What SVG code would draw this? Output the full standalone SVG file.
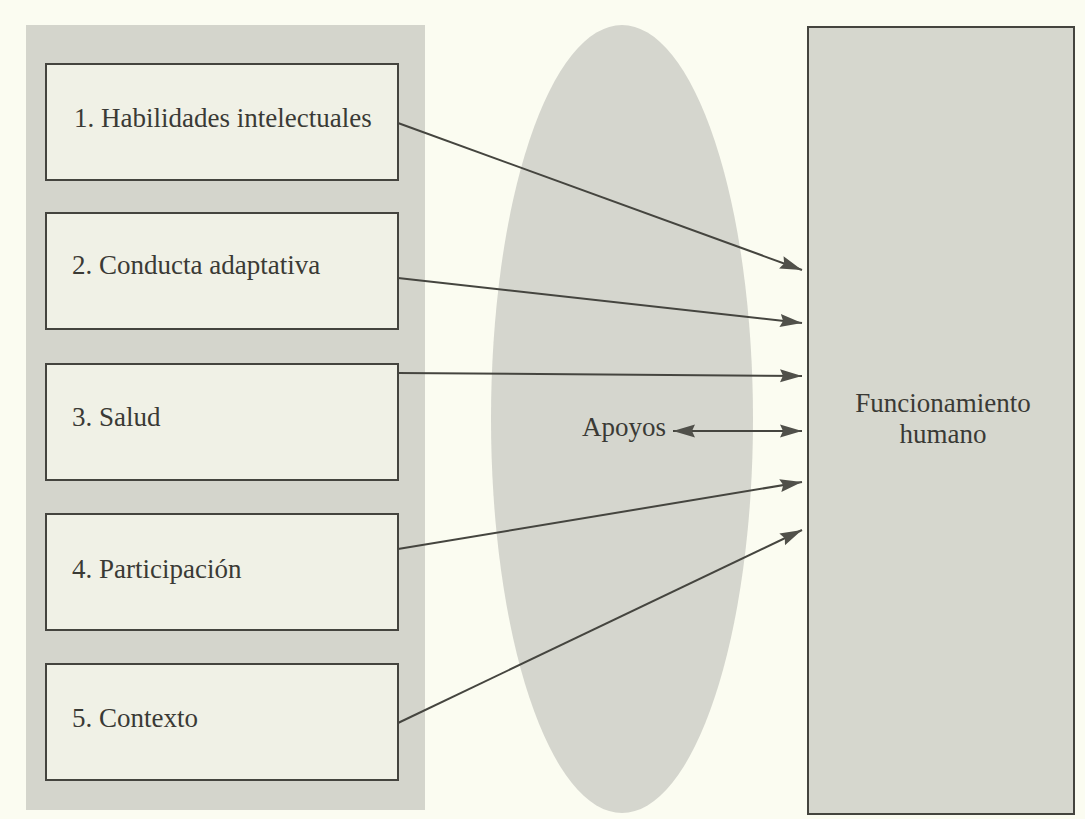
<svg xmlns="http://www.w3.org/2000/svg" width="1085" height="819" viewBox="0 0 1085 819">
<style>
.panel{fill:#d4d5cc;}
.box{fill:#f0f1e6;stroke:#44443e;stroke-width:2;}
.lbl{font-family:"Liberation Serif","Times New Roman",serif;font-size:27px;fill:#3a3a35;}
.conn{stroke:#45453f;stroke-width:2;fill:none;}
</style>
<defs>
<marker id="ah" markerUnits="userSpaceOnUse" markerWidth="24" markerHeight="16" refX="22" refY="8" orient="auto-start-reverse">
<path d="M0,1.5 L22,8 L0,14.5 L3,8 z" fill="#50504a"/>
</marker>
</defs>
<rect x="0" y="0" width="1085" height="819" fill="#fbfcf1"/>
<g id="left-panel">
<rect class="panel" x="26" y="25" width="399" height="785"/>
</g>
<g id="apoyos-ellipse">
<ellipse cx="622" cy="419" rx="131" ry="394" fill="#d5d6ce"/>
</g>
<g id="funcionamiento">
<rect x="808" y="27" width="266" height="787" fill="#d6d7ce" stroke="#44443e" stroke-width="2"/>
<text class="lbl" x="943" y="412" text-anchor="middle">Funcionamiento</text>
<text class="lbl" x="943" y="443" text-anchor="middle">humano</text>
</g>
<g id="box1">
<rect class="box" x="46" y="64" width="352" height="116"/>
<text class="lbl" x="74" y="127">1. Habilidades intelectuales</text>
</g>
<g id="box2">
<rect class="box" x="46" y="213" width="352" height="116"/>
<text class="lbl" x="72" y="274">2. Conducta adaptativa</text>
</g>
<g id="box3">
<rect class="box" x="46" y="364" width="352" height="116"/>
<text class="lbl" x="72" y="426">3. Salud</text>
</g>
<g id="box4">
<rect class="box" x="46" y="514" width="352" height="116"/>
<text class="lbl" x="72" y="578">4. Participación</text>
</g>
<g id="box5">
<rect class="box" x="46" y="664" width="352" height="116"/>
<text class="lbl" x="72" y="727">5. Contexto</text>
</g>
<g id="apoyos">
<text class="lbl" x="582" y="436">Apoyos</text>
</g>
<g id="connectors">
<line class="conn" x1="398" y1="123" x2="802" y2="270" marker-end="url(#ah)"/>
<line class="conn" x1="398" y1="278" x2="802" y2="323" marker-end="url(#ah)"/>
<line class="conn" x1="398" y1="373" x2="802" y2="376" marker-end="url(#ah)"/>
<line class="conn" x1="673" y1="431" x2="802" y2="431" marker-start="url(#ah)" marker-end="url(#ah)"/>
<line class="conn" x1="398" y1="549" x2="802" y2="482" marker-end="url(#ah)"/>
<line class="conn" x1="398" y1="723" x2="802" y2="530" marker-end="url(#ah)"/>
</g>
</svg>
